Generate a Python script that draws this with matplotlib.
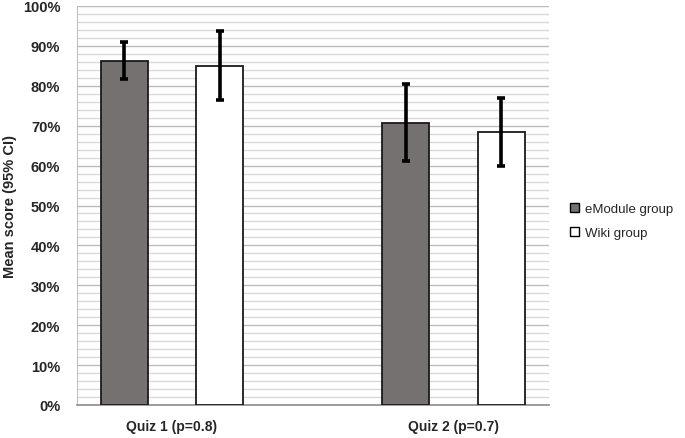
import matplotlib
matplotlib.use("Agg")
import matplotlib.pyplot as plt
import numpy as np
from matplotlib.patches import Patch
from matplotlib.ticker import MultipleLocator, FuncFormatter

plt.rcParams["font.family"] = ["Liberation Sans", "DejaVu Sans"]

categories = ["Quiz 1 (p=0.8)", "Quiz 2 (p=0.7)"]
groups = ["eModule group", "Wiki group"]
means = {
    "eModule group": [86.3, 70.7],
    "Wiki group": [85.0, 68.3],
}
ci_low = {
    "eModule group": [81.6, 61.2],
    "Wiki group": [76.5, 59.8],
}
ci_high = {
    "eModule group": [91.1, 80.4],
    "Wiki group": [93.8, 76.9],
}
colors = {"eModule group": "#767171", "Wiki group": "#ffffff"}

fig = plt.figure(figsize=(6.85, 4.39), dpi=100)
ax = fig.add_axes([77 / 685, 1 - 406 / 439, (549 - 77) / 685, (406 - 7) / 439])

x = np.arange(len(categories))
width = 0.167
offsets = [-0.17, 0.17]
for name, off in zip(groups, offsets):
    m = np.array(means[name])
    lo = m - np.array(ci_low[name])
    hi = np.array(ci_high[name]) - m
    ax.bar(x + off, m, width, color=colors[name], edgecolor="#1a1a1a",
           linewidth=1.3, zorder=3)
    ax.errorbar(x + off, m, yerr=[lo, hi], fmt="none", ecolor="#000000",
                elinewidth=2.6, capsize=2.6, capthick=2.6, zorder=4)

ax.set_xlim(-0.337, 1.339)
ax.set_ylim(0, 100)
ax.yaxis.set_major_locator(MultipleLocator(10))
ax.yaxis.set_minor_locator(MultipleLocator(2))
ax.yaxis.set_major_formatter(FuncFormatter(lambda v, _: f"{v:.0f}%"))
ax.grid(axis="y", which="major", color="#bcbcbc", linewidth=1.0, zorder=0)
ax.grid(axis="y", which="minor", color="#d9d9d9", linewidth=1.0, zorder=0)
ax.set_axisbelow(True)

ax.set_xticks(x)
ax.set_xticklabels(categories, fontsize=10, fontweight="bold", color="#262626")
ax.tick_params(axis="x", length=0, pad=10)
ax.tick_params(axis="y", which="both", length=0, pad=12)
for lab in ax.get_yticklabels():
    lab.set_fontweight("bold")
    lab.set_fontsize(10.5)
    lab.set_color("#262626")

for side in ["top", "right"]:
    ax.spines[side].set_visible(False)
ax.spines["left"].set_color("#bfbfbf")
ax.spines["bottom"].set_color("#8c8c8c")
ax.spines["bottom"].set_linewidth(1.2)

ax.set_ylabel("Mean score (95% CI)", fontsize=10.5, fontweight="bold",
              color="#262626", labelpad=4)

handles = [Patch(facecolor=colors[g], edgecolor="#000000", linewidth=1.0) for g in groups]
fig.legend(handles, groups, loc="center left", bbox_to_anchor=(0.815, 0.494),
           frameon=False, fontsize=9.5, handlelength=0.7, handleheight=0.7,
           handletextpad=0.4, labelspacing=0.9, labelcolor="#262626")

fig.savefig("out.png", dpi=100)
